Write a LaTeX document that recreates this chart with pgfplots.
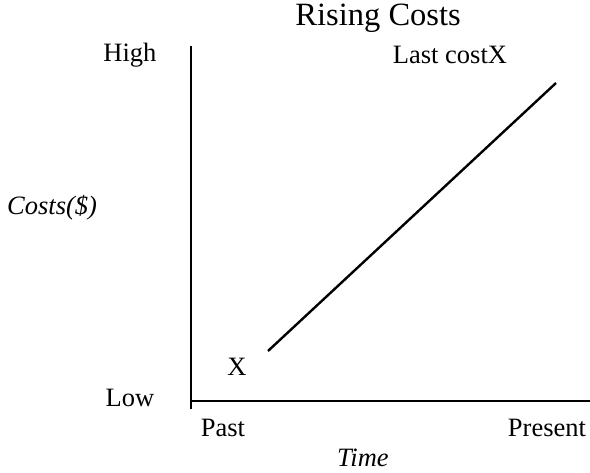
\documentclass[border=0pt]{standalone}
\usepackage{pgfplots}
\pgfplotsset{compat=1.18}
\usepackage{fontspec}
\setmainfont{Liberation Serif}
\begin{document}
\begin{tikzpicture}[font=\fontsize{26.5bp}{30bp}\selectfont]
\begin{axis}[
  at={(0,0)}, anchor=south west,
  scale only axis,
  width=399bp, height=363bp,
  xmin=0, xmax=399, ymin=-8, ymax=355,
  axis x line*=middle, axis y line*=left,
  axis line style={-, line width=2.4bp},
  clip=false,
  major tick length=0pt,
  xtick={32,356}, xticklabels={Past,Present},
  ytick={3,346}, yticklabels={Low,High},
  xticklabel style={anchor=center, yshift=-27bp},
  yticklabel style={anchor=center, xshift=-61bp},
  every axis title shift=0pt,
  title={\fontsize{32.5bp}{36bp}\selectfont Rising Costs},
  title style={at={(axis description cs:0.469,1.077)}, anchor=center},
  xlabel={\itshape Time},
  xlabel style={at={(axis description cs:0.431,-0.135)}, anchor=center},
  ylabel={\itshape Costs(\$)},
  ylabel style={at={(axis description cs:-0.348,0.554)}, anchor=center, rotate=-90},
]
\addplot[black, line width=2.4bp, no markers] coordinates {(77,50) (365,318)};
\node at (axis cs:46,34) {X};
\node at (axis cs:259,346) {Last costX};
\end{axis}
\pgfresetboundingbox
\path[use as bounding box] (-191bp,-64bp) rectangle (399bp,409bp);
\end{tikzpicture}
\end{document}
